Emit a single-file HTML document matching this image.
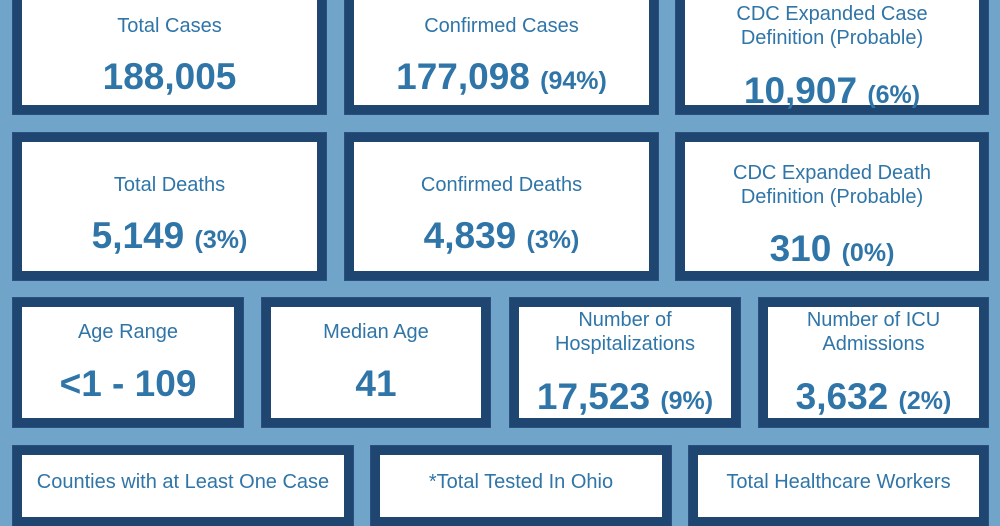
<!DOCTYPE html>
<html><head><meta charset="utf-8"><style>
body{margin:0;width:1000px;height:500px;overflow:hidden;background:#70a4c9;font-family:"Liberation Sans",sans-serif;position:relative}
.card{position:absolute;box-sizing:border-box;border:9px solid #1f4670;background:#fff;outline:1px solid #2b4f80}
.t{position:absolute;left:0;right:0;text-align:center;color:#2f75a8;font-size:20px;line-height:24px}
.v{position:absolute;left:0;right:0;text-align:center;color:#2f75a8;font-size:37px;font-weight:bold;line-height:40px}
.v span{font-size:25px}
</style></head><body>
<div class="card" style="left:13px;top:-60px;width:313px;height:174px"><div class="t" style="top:65px">Total Cases</div><div class="v" style="top:108px">188,005</div></div>
<div class="card" style="left:345px;top:-60px;width:313px;height:174px"><div class="t" style="top:65px">Confirmed Cases</div><div class="v" style="top:108px">177,098 <span>(94%)</span></div></div>
<div class="card" style="left:676px;top:-60px;width:312px;height:174px"><div class="t" style="top:53px">CDC Expanded Case<br>Definition (Probable)</div><div class="v" style="top:122px">10,907 <span>(6%)</span></div></div>

<div class="card" style="left:13px;top:133px;width:313px;height:147px"><div class="t" style="top:31px">Total Deaths</div><div class="v" style="top:74px">5,149 <span>(3%)</span></div></div>
<div class="card" style="left:345px;top:133px;width:313px;height:147px"><div class="t" style="top:31px">Confirmed Deaths</div><div class="v" style="top:74px">4,839 <span>(3%)</span></div></div>
<div class="card" style="left:676px;top:133px;width:312px;height:147px"><div class="t" style="top:19px">CDC Expanded Death<br>Definition (Probable)</div><div class="v" style="top:87px">310 <span>(0%)</span></div></div>

<div class="card" style="left:13px;top:298px;width:230px;height:129px"><div class="t" style="top:13px">Age Range</div><div class="v" style="top:57px">&lt;1 - 109</div></div>
<div class="card" style="left:262px;top:298px;width:228px;height:129px"><div class="t" style="top:13px">Median Age</div><div class="v" style="top:57px">41</div></div>
<div class="card" style="left:510px;top:298px;width:230px;height:129px"><div class="t" style="top:1px">Number of<br>Hospitalizations</div><div class="v" style="top:70px">17,523 <span>(9%)</span></div></div>
<div class="card" style="left:759px;top:298px;width:229px;height:129px"><div class="t" style="top:1px">Number of ICU<br>Admissions</div><div class="v" style="top:70px">3,632 <span>(2%)</span></div></div>

<div class="card" style="left:13px;top:446px;width:340px;height:80px"><div class="t" style="top:15px">Counties with at Least One Case</div></div>
<div class="card" style="left:371px;top:446px;width:300px;height:80px"><div class="t" style="top:15px">*Total Tested In Ohio</div></div>
<div class="card" style="left:689px;top:446px;width:299px;height:80px"><div class="t" style="top:15px">Total Healthcare Workers</div></div>
</body></html>
